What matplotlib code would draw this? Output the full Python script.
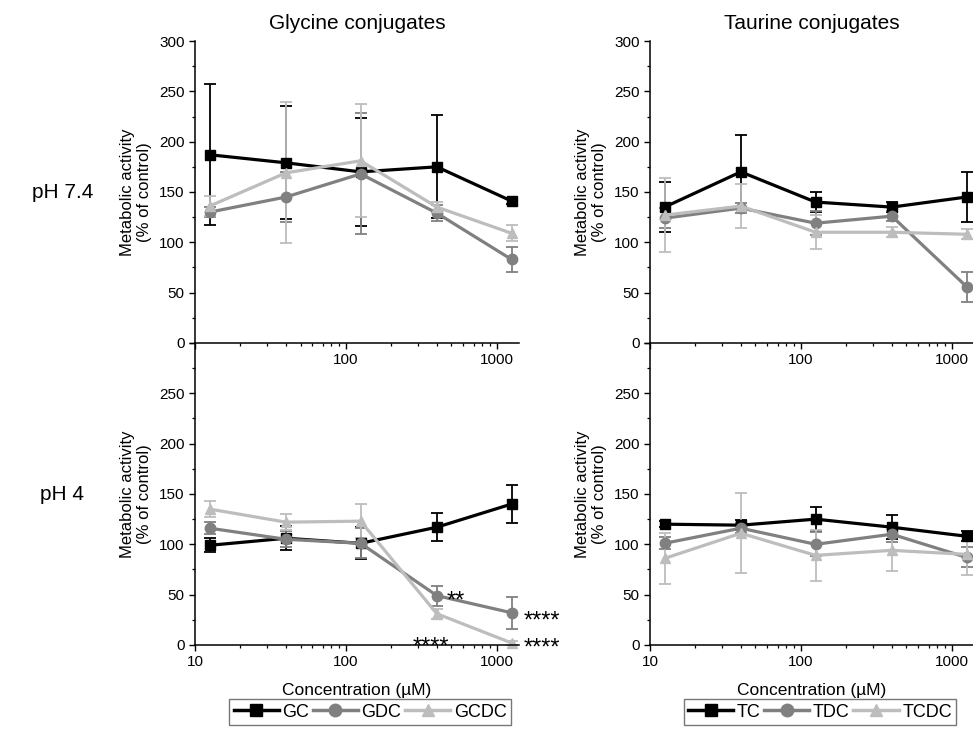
import matplotlib
matplotlib.use("Agg")
import matplotlib.pyplot as plt
from matplotlib.lines import Line2D
from matplotlib.ticker import FixedLocator, MultipleLocator, NullFormatter, LogLocator

plt.rcParams["font.family"] = ["Liberation Sans", "DejaVu Sans"]

conc = [12.5, 40, 125, 400, 1250]

# glycine conjugates, pH 7.4
gc_74 = [187, 179, 170, 175, 141]
gc_74_err = [70, 56, 54, 51, 3]
gdc_74 = [130, 145, 168, 129, 83]
gdc_74_err = [5, 25, 60, 8, 12]
gcdc_74 = [136, 169, 181, 135, 109]
gcdc_74_err = [10, 70, 56, 5, 8]

# taurine conjugates, pH 7.4
tc_74 = [135, 170, 140, 135, 145]
tc_74_err = [25, 37, 10, 5, 25]
tdc_74 = [124, 134, 119, 126, 56]
tdc_74_err = [10, 5, 12, 5, 15]
tcdc_74 = [127, 136, 110, 110, 108]
tcdc_74_err = [37, 22, 17, 5, 5]

# glycine conjugates, pH 4
gc_4 = [99, 106, 101, 117, 140]
gc_4_err = [7, 12, 16, 14, 19]
gdc_4 = [116, 105, 101, 49, 32]
gdc_4_err = [6, 8, 15, 10, 16]
gcdc_4 = [135, 122, 123, 31, 2]
gcdc_4_err = [8, 8, 17, 5, 2]

# taurine conjugates, pH 4
tc_4 = [120, 119, 125, 117, 108]
tc_4_err = [3, 5, 12, 12, 5]
tdc_4 = [101, 116, 100, 110, 87]
tdc_4_err = [6, 5, 12, 8, 10]
tcdc_4 = [86, 111, 89, 94, 90]
tcdc_4_err = [25, 40, 25, 21, 20]

glycine_names = ["GC", "GDC", "GCDC"]
taurine_names = ["TC", "TDC", "TCDC"]

colors = ["#000000", "#808080", "#bdbdbd"]
markers = ["s", "o", "^"]

fig = plt.figure(figsize=(9.73, 7.31), dpi=100)

w = 0.333
h = 0.4131
ax_tl = fig.add_axes([0.2004, 0.5308, w, h])
ax_tr = fig.add_axes([0.668, 0.5308, w, h])
ax_bl = fig.add_axes([0.2004, 0.1177, w, h])
ax_br = fig.add_axes([0.668, 0.1177, w, h])


def draw(ax, series, errs):
    for i in range(3):
        ax.errorbar(conc, series[i], yerr=errs[i], color=colors[i],
                    marker=markers[i], markersize=7.5, linewidth=2.3,
                    elinewidth=1.3, capsize=4.5, capthick=1.3, clip_on=False)


def style(ax, top_row):
    ax.set_xscale("log")
    ax.set_xlim(10, 1400)
    ax.set_ylim(0, 300)
    for s in ["top", "right"]:
        ax.spines[s].set_visible(False)
    for s in ["left", "bottom"]:
        ax.spines[s].set_linewidth(1.1)
    ax.yaxis.set_major_locator(MultipleLocator(50))
    ax.yaxis.set_minor_locator(MultipleLocator(25))
    ax.xaxis.set_major_locator(FixedLocator([10, 100, 1000]))
    ax.xaxis.set_minor_locator(LogLocator(base=10, subs=range(2, 10)))
    ax.xaxis.set_minor_formatter(NullFormatter())
    ax.tick_params(axis="both", which="major", direction="out", length=4,
                   width=1.0, labelsize=11)
    ax.tick_params(axis="both", which="minor", direction="out", length=2.5,
                   width=0.9)
    if top_row:
        ax.set_xticklabels(["", "100", "1000"])
    else:
        ax.set_xticklabels(["10", "100", "1000"])
        ax.set_yticks([0, 50, 100, 150, 200, 250, 300])
        ax.set_yticklabels(["0", "50", "100", "150", "200", "250", ""])
        ax.set_xlabel("Concentration (\u00b5M)", fontsize=12.5, labelpad=10)
    ax.set_ylabel("Metabolic activity\n(% of control)", fontsize=12, labelpad=5)
    ax.patch.set_alpha(0)


draw(ax_tl, [gc_74, gdc_74, gcdc_74], [gc_74_err, gdc_74_err, gcdc_74_err])
draw(ax_tr, [tc_74, tdc_74, tcdc_74], [tc_74_err, tdc_74_err, tcdc_74_err])
draw(ax_bl, [gc_4, gdc_4, gcdc_4], [gc_4_err, gdc_4_err, gcdc_4_err])
draw(ax_br, [tc_4, tdc_4, tcdc_4], [tc_4_err, tdc_4_err, tcdc_4_err])

style(ax_tl, True)
style(ax_tr, True)
style(ax_bl, False)
style(ax_br, False)

ax_tl.set_title("Glycine conjugates", fontsize=15, pad=9)
ax_tr.set_title("Taurine conjugates", fontsize=15, pad=9)

fig.text(0.064, 1 - 193 / 731, "pH 7.4", fontsize=15, ha="center", va="center")
fig.text(0.064, 1 - 494 / 731, "pH 4", fontsize=15, ha="center", va="center")

# significance stars
star_kw = dict(textcoords="offset points", fontsize=17, va="center",
               annotation_clip=False)
ax_bl.annotate("**", (400, 49), xytext=(7, -4), ha="left", **star_kw)
ax_bl.annotate("****", (1250, 32), xytext=(9, -6), ha="left", **star_kw)
ax_bl.annotate("****", (400, 31), xytext=(-4, -24), ha="center", **star_kw)
ax_bl.annotate("****", (1250, 2), xytext=(9, -4), ha="left", **star_kw)


def legend_handles():
    return [Line2D([], [], color=colors[i], marker=markers[i], markersize=9,
                   linewidth=2.5) for i in range(3)]


leg_kw = dict(ncol=3, fontsize=13, frameon=True, fancybox=False,
              edgecolor="#555555", handlelength=2.5, columnspacing=0.2,
              handletextpad=0.2, borderpad=0.25, borderaxespad=0)
l1 = fig.legend(legend_handles(), glycine_names, loc="upper center",
                bbox_to_anchor=(370 / 973, 1 - 699 / 731), **leg_kw)
l2 = fig.legend(legend_handles(), taurine_names, loc="upper center",
                bbox_to_anchor=(820 / 973, 1 - 699 / 731), **leg_kw)
for l in (l1, l2):
    l.get_frame().set_linewidth(1.0)

fig.savefig("out.png", dpi=100)
